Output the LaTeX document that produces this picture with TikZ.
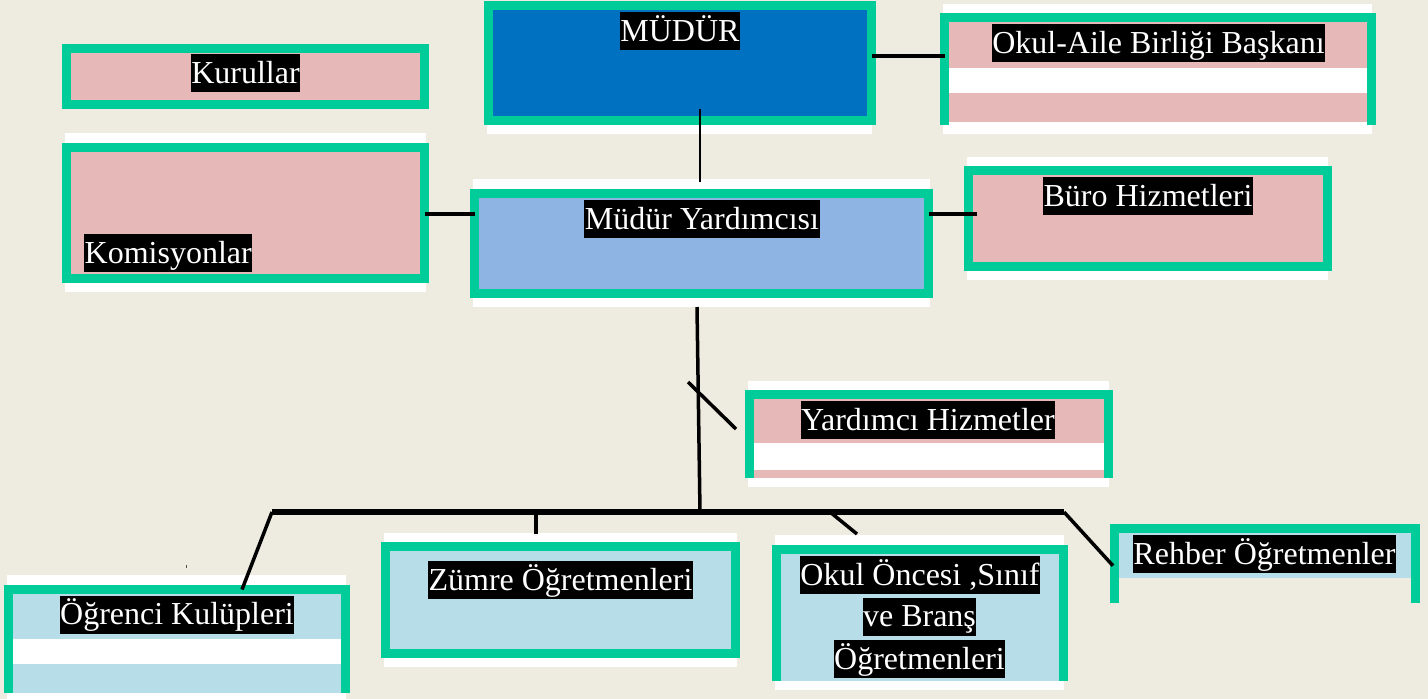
\documentclass[tikz,border=0pt]{standalone}
\usepackage{fontspec}
\setmainfont{Liberation Serif}
\usetikzlibrary{calc}
\definecolor{bgc}{RGB}{238,235,224}
\definecolor{grn}{RGB}{0,204,153}
\definecolor{pinkc}{RGB}{230,184,183}
\definecolor{lblue}{RGB}{183,222,232}
\definecolor{dblue}{RGB}{0,112,192}
\definecolor{mblue}{RGB}{142,180,227}
\begin{document}
\begin{tikzpicture}[x=1pt,y=-1pt,
  frame/.style={draw=grn, line width=9pt, inner sep=0pt, outer sep=0pt},
  area/.style={inner sep=0pt, outer sep=0pt},
  ugreen/.style={draw=grn, line width=9pt, line cap=butt, line join=miter},
  lbl/.style={fill=black, text=white, inner xsep=0.5pt, inner ysep=1pt, text height=28pt, text depth=8pt, font=\fontsize{32}{38}\selectfont},
  conn/.style={line width=3.5pt, black},
  bus/.style={line width=5.5pt, black},
  thinconn/.style={line width=2pt, black}]
\fill[bgc] (0,0) rectangle (1428,699);
\useasboundingbox (0,0) rectangle (1428,699);

% white shadows
\fill[white] (487,10) rectangle (872,134);
\fill[white] (943,4) rectangle (1372,134);
\fill[white] (65,133) rectangle (426,292);
\fill[white] (473,179) rectangle (930,307);
\fill[white] (967,157) rectangle (1328,280);
\fill[white] (748,381) rectangle (1109,487);
\fill[white] (7,575) rectangle (346,699);
\fill[white] (384,533) rectangle (737,667);
\fill[white] (775,535) rectangle (1064,690);

% closed frames
\node[frame, fill=dblue, minimum width=383, minimum height=115] (mudur) at (680,63) {};
\node[frame, fill=pinkc, minimum width=358, minimum height=56] (kur) at (245.5,76.5) {};
\node[frame, fill=pinkc, minimum width=358, minimum height=131] (kom) at (245.5,213) {};
\node[frame, fill=mblue, minimum width=454, minimum height=100] (my) at (701.5,243.5) {};
\node[frame, fill=pinkc, minimum width=359, minimum height=96] (buro) at (1148,218.5) {};
\node[frame, fill=lblue, minimum width=350, minimum height=107] (zo) at (560.5,600) {};

% open-bottom frames
\node[area, minimum width=427, minimum height=107.5] (oab) at (1158,71.25) {};
\fill[pinkc] (949,22) rectangle (1367,68);
\fill[pinkc] (949,93) rectangle (1367,122);
\draw[ugreen] (oab.south west) -- (oab.north west) -- (oab.north east) -- (oab.south east);

\node[area, minimum width=359, minimum height=83.5] (yh) at (929,436.25) {};
\fill[pinkc] (754,399) rectangle (1104,443);
\fill[pinkc] (754,470) rectangle (1104,478);
\draw[ugreen] (yh.south west) -- (yh.north west) -- (yh.north east) -- (yh.south east);

\node[area, minimum width=337, minimum height=103.5] (ok) at (177,641.25) {};
\fill[lblue] (13,594) rectangle (341,639);
\fill[lblue] (13,664) rectangle (341,693);
\draw[ugreen] (ok.south west) -- (ok.north west) -- (ok.north east) -- (ok.south east);

\node[area, minimum width=287, minimum height=131.5] (oo) at (920,615.25) {};
\fill[lblue] (781,554) rectangle (1059,681);
\draw[ugreen] (oo.south west) -- (oo.north west) -- (oo.north east) -- (oo.south east);

\node[area, minimum width=301, minimum height=74.5] (rh) at (1265,565.75) {};
\fill[lblue] (1119,533) rectangle (1411,578);
\draw[ugreen] (rh.south west) -- (rh.north west) -- (rh.north east) -- (rh.south east);

% labels
\node[lbl] (t1) at (680,31) {MÜDÜR};
\node[lbl] (t2) at (1158.5,43) {Okul-Aile Birliği Başkanı};
\node[lbl] (t3) at (245.5,73) {Kurullar};
\node[lbl, anchor=west] (t4) at (84,253) {Komisyonlar};
\node[lbl] (t5) at (702,219) {Müdür Yardımcısı};
\node[lbl] (t6) at (1148,196) {Büro Hizmetleri};
\node[lbl] (t7) at (928,420) {Yardımcı Hizmetler};
\node[lbl] (t8) at (177,614.5) {Öğrenci Kulüpleri};
\node[lbl] (t9) at (560.5,580) {Zümre Öğretmenleri};
\node[lbl] (t10) at (920,575) {Okul Öncesi ,Sınıf};
\node[lbl] (t11) at (919.5,616.5) {ve Branş};
\node[lbl] (t12) at (919.5,659) {Öğretmenleri};
\node[lbl] (t13) at (1264.5,554) {Rehber Öğretmenler};

% small speck
\fill[black!70] (185.5,565) rectangle (187,568);

% connectors
\coordinate (barL) at (272,512);
\coordinate (barR) at (1064,512);
\coordinate (junc) at (700,512);
\draw[conn] ([yshift=7pt]mudur.east) -- ([yshift=15.25pt]oab.west);
\draw[thinconn] ([xshift=20pt,yshift=12pt]mudur.south) -- ([xshift=-1.5pt,yshift=11.5pt]my.north);
\draw[conn] ([yshift=-1pt]kom.east) -- ([yshift=29.5pt]my.west);
\draw[conn] ([yshift=29.5pt]my.east) -- ([xshift=8.5pt,yshift=4.5pt]buro.west);
\draw[conn] ([xshift=-4.5pt,yshift=-13.5pt]my.south) -- (junc);
\draw[conn] ([xshift=-13.5pt,yshift=7.25pt]yh.west) -- ++(-48,-47);
\draw[bus] (barL) -- (barR);
\draw[conn] (barL) -- ([xshift=65pt]ok.north);
\draw[conn] ([xshift=-24.5pt,yshift=12.5pt]zo.north) -- ++(0,-22);
\draw[conn] ([xshift=-63pt,yshift=15.5pt]oo.north) -- ++(-27,-22);
\draw[conn] (barR) -- ([xshift=-1.5pt]rh.west);
\end{tikzpicture}
\end{document}
